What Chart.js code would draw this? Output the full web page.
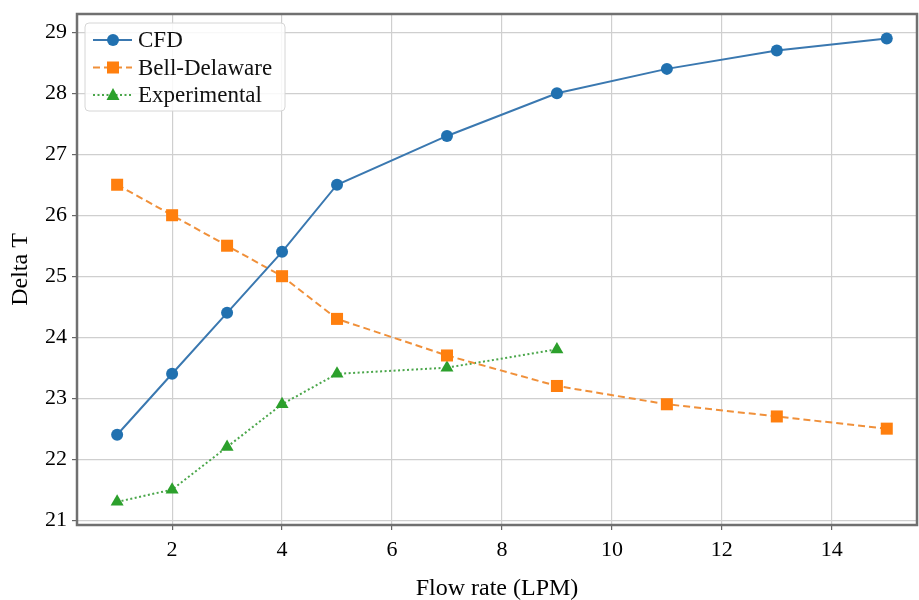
<!DOCTYPE html>
<html>
<head>
<meta charset="utf-8">
<script src="https://cdn.jsdelivr.net/npm/chart.js@4.4.1/dist/chart.umd.min.js"></script>
<style>
  html, body { margin: 0; padding: 0; background: #fff; overflow: hidden; }
  #wrap { width: 919px; height: 600px; position: relative; }
  canvas { display: block; }
</style>
</head>
<body>
<div id="wrap"><canvas id="chart"></canvas></div>
<script>
// data
const cfdX = [1, 2, 3, 4, 5, 7, 9, 11, 13, 15];
const cfdY = [22.4, 23.4, 24.4, 25.4, 26.5, 27.3, 28.0, 28.4, 28.7, 28.9];
const bellX = [1, 2, 3, 4, 5, 7, 9, 11, 13, 15];
const bellY = [26.5, 26.0, 25.5, 25.0, 24.3, 23.7, 23.2, 22.9, 22.7, 22.5];
const expX = [1, 2, 3, 4, 5, 7, 9];
const expY = [21.3, 21.5, 22.2, 22.9, 23.4, 23.5, 23.8];
const xTicks = [2, 4, 6, 8, 10, 12, 14];
const yTicks = [21, 22, 23, 24, 25, 26, 27, 28, 29];

const FONT = "'Liberation Serif', 'DejaVu Serif', serif";

function pts(xs, ys) {
  return xs.map((x, i) => ({ x: x, y: ys[i] }));
}

// spines on all four sides
const frame = {
  id: "frame",
  afterDatasetsDraw(chart) {
    const { ctx, chartArea: { left, right, top, bottom } } = chart;
    ctx.save();
    ctx.strokeStyle = "#707070";
    ctx.lineWidth = 2.5;
    ctx.strokeRect(left, top, right - left, bottom - top);
    ctx.restore();
  }
};

// legend drawn inside the plot, upper left
const innerLegend = {
  id: "innerLegend",
  afterDraw(chart) {
    const { ctx, chartArea: { left, top } } = chart;
    const x0 = left + 8, y0 = top + 9, w = 200, h = 88;
    ctx.save();
    ctx.fillStyle = "rgba(255,255,255,0.85)";
    ctx.strokeStyle = "#d6d6d6";
    ctx.lineWidth = 1;
    ctx.beginPath();
    ctx.roundRect(x0, y0, w, h, 4);
    ctx.fill();
    ctx.stroke();

    ctx.font = "23px " + FONT;
    ctx.textBaseline = "middle";
    chart.data.datasets.forEach((ds, i) => {
      const cy = y0 + 17 + i * 27.5;
      ctx.strokeStyle = ds.borderColor;
      ctx.lineWidth = 2;
      ctx.setLineDash(ds.borderDash || []);
      ctx.beginPath();
      ctx.moveTo(x0 + 8, cy);
      ctx.lineTo(x0 + 47, cy);
      ctx.stroke();
      ctx.setLineDash([]);
      ctx.fillStyle = ds.backgroundColor;
      const cx = x0 + 28;
      if (ds.pointStyle === "rect") {
        ctx.fillRect(cx - 6, cy - 6, 12, 12);
      } else if (ds.pointStyle === "triangle") {
        ctx.beginPath();
        ctx.moveTo(cx, cy - 7);
        ctx.lineTo(cx + 6.5, cy + 5);
        ctx.lineTo(cx - 6.5, cy + 5);
        ctx.closePath();
        ctx.fill();
      } else {
        ctx.beginPath();
        ctx.arc(cx, cy, 6, 0, Math.PI * 2);
        ctx.fill();
      }
      ctx.fillStyle = "#111";
      ctx.fillText(ds.label, x0 + 53, cy + 1);
    });
    ctx.restore();
  }
};

const data = {
  datasets: [
    {
      label: "CFD",
      data: pts(cfdX, cfdY),
      borderColor: "#3a78b0",
      backgroundColor: "#2171b0",
      borderWidth: 2,
      pointStyle: "circle",
      pointRadius: 6,
      pointBorderWidth: 0
    },
    {
      label: "Bell-Delaware",
      data: pts(bellX, bellY),
      borderColor: "#f0903a",
      backgroundColor: "#ff7f0e",
      borderWidth: 2,
      borderDash: [7, 4],
      pointStyle: "rect",
      pointRadius: 8.5,
      pointBorderWidth: 0
    },
    {
      label: "Experimental",
      data: pts(expX, expY),
      borderColor: "#4aa64a",
      backgroundColor: "#2ca02c",
      borderWidth: 2,
      borderDash: [2, 2.5],
      pointStyle: "triangle",
      pointRadius: 7.5,
      pointBorderWidth: 0
    }
  ]
};

const config = {
  type: "line",
  data,
  options: {
    responsive: true,
    maintainAspectRatio: false,
    animation: false,
    layout: { autoPadding: false, padding: { left: 0, right: 2, top: 14, bottom: 0 } },
    plugins: {
      legend: { display: false },
      tooltip: { enabled: false }
    },
    scales: {
      x: {
        type: "linear",
        min: 0.27,
        max: 15.55,
        afterBuildTicks: (axis) => { axis.ticks = xTicks.map(v => ({ value: v })); },
        afterFit: (axis) => {
          axis.height = 75;
          axis.paddingLeft = 0;
          axis.paddingRight = 0;
        },
        ticks: {
          color: "#000",
          font: { family: FONT, size: 22 },
          padding: 7
        },
        grid: { color: "#cfcfcf", lineWidth: 1.2, tickLength: 5, tickColor: "#666" },
        border: { display: false },
        title: {
          display: true,
          text: "Flow rate (LPM)",
          color: "#000",
          font: { family: FONT, size: 24 },
          padding: { top: 2, bottom: -3 }
        }
      },
      y: {
        type: "linear",
        min: 20.92,
        max: 29.3,
        afterBuildTicks: (axis) => { axis.ticks = yTicks.map(v => ({ value: v })); },
        afterFit: (axis) => {
          axis.width = 77;
          axis.paddingTop = 0;
          axis.paddingBottom = 0;
        },
        ticks: {
          color: "#000",
          font: { family: FONT, size: 22 },
          padding: 5
        },
        grid: { color: "#cfcfcf", lineWidth: 1.2, tickLength: 5, tickColor: "#666" },
        border: { display: false },
        title: {
          display: true,
          text: "Delta T",
          color: "#000",
          font: { family: FONT, size: 24 },
          padding: { top: 6, bottom: 2 }
        }
      }
    }
  },
  plugins: [frame, innerLegend]
};

const myChart = new Chart(document.getElementById("chart"), config);
</script>
</body>
</html>
